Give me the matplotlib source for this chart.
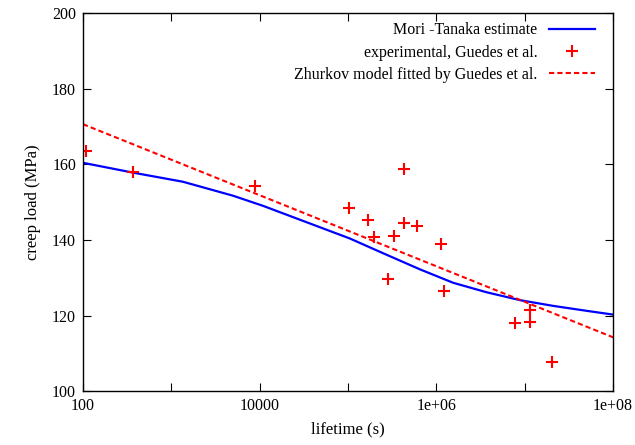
import matplotlib
matplotlib.use("Agg")
import matplotlib.pyplot as plt
from matplotlib.ticker import FixedLocator, FixedFormatter, NullLocator

plt.rcParams["font.family"] = ["Liberation Serif", "DejaVu Serif"]
plt.rcParams["font.size"] = 12

# --- data ---
mt_life = [1e2, 3.68e2, 1.35e3, 5.0e3, 1.1e4, 2.9e4, 1.05e5, 2.5e5,
           6.6e5, 1.55e6, 3.7e6, 8.9e6, 2.1e7, 5.0e7, 1e8]
mt_load = [160.4, 157.8, 155.4, 151.7, 149.0, 145.3, 140.4, 136.5,
           132.2, 128.7, 126.2, 124.1, 122.6, 121.3, 120.3]

exp_life = [1.08e2, 3.66e2, 8.85e3, 1.02e5, 1.7e5, 1.95e5, 2.8e5, 3.3e5,
            4.3e5, 4.3e5, 6.1e5, 1.12e6, 1.23e6, 7.8e6, 1.15e7, 1.15e7, 2.05e7]
exp_load = [163.5, 158.1, 154.3, 148.4, 145.4, 140.9, 129.6, 141.1,
            158.7, 144.4, 143.8, 138.9, 126.5, 118.0, 118.3, 121.4, 107.7]

zh_life = [1e2, 1e8]
zh_load = [170.6, 114.3]

xticks = [1e2, 1e3, 1e4, 1e5, 1e6, 1e7, 1e8]
xlabels = ["100", "", "10000", "", "1e+06", "", "1e+08"]
yticks = [100, 120, 140, 160, 180, 200]

fig = plt.figure(figsize=(6.35, 4.45), dpi=100)
ax = fig.add_axes([0.1307, 0.1204, 0.8347, 0.8506])

ax.plot(mt_life, mt_load, color="#0000ff", lw=1.6, label="Mori -Tanaka estimate")
ax.plot(exp_life, exp_load, ls="none", marker="+", ms=9, mew=1.5,
        color="#ff0000", label="experimental, Guedes et al.")
ax.plot(zh_life, zh_load, color="#ff0000", lw=1.5, ls=(0, (2.5, 1.5)),
        label="Zhurkov model fitted by Guedes et al.")

ax.set_xscale("log")
ax.set_xlim(1e2, 1e8)
ax.set_ylim(100, 200)
ax.xaxis.set_major_locator(FixedLocator(xticks))
ax.xaxis.set_major_formatter(FixedFormatter(xlabels))
ax.xaxis.set_minor_locator(NullLocator())
ax.set_yticks(yticks)
ax.tick_params(direction="in", length=6, width=0.8, top=True, right=True,
               labelsize=11.5, pad=5)
for s in ax.spines.values():
    s.set_linewidth(1.0)

ax.set_xlabel("lifetime (s)", labelpad=5)
ax.set_ylabel("creep load (MPa)", labelpad=8)

ax.legend(loc="upper right", frameon=False, markerfirst=False, fontsize=11.5,
          handlelength=2.9, labelspacing=0.38, handletextpad=0.75,
          borderaxespad=0.2, bbox_to_anchor=(0.985, 1.0))

fig.savefig("out.png", dpi=100)
